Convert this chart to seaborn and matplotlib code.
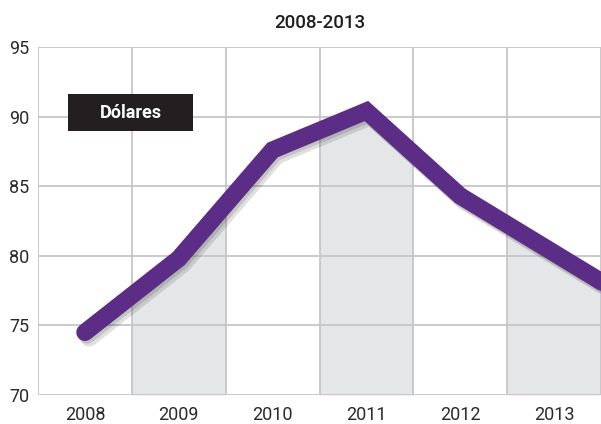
import numpy as np
import pandas as pd
import matplotlib
matplotlib.use("Agg")
import matplotlib.pyplot as plt
import matplotlib.patheffects as pe
from matplotlib.patches import Rectangle
import seaborn as sns

# data (last point lies past the right edge, clipped)
years = [2008, 2009, 2010, 2011, 2012, 2013, 2014]
dolares = [74.5, 79.8, 87.6, 90.4, 84.3, 80.2, 76.1]
shown_years = ["2008", "2009", "2010", "2011", "2012", "2013"]
y_ticks = [70, 75, 80, 85, 90, 95]
shaded = [1, 3, 5]  # index of 2009, 2011, 2013 columns

df = pd.DataFrame({"pos": np.arange(len(years)), "valor": dolares})

sns.set_style("white")
plt.rcParams["font.family"] = ["Roboto", "DejaVu Sans"]

W, H = 601, 424
fig = plt.figure(figsize=(W / 100, H / 100), dpi=100)
ax = fig.add_axes([38 / W, 1 - 395 / H, 1 - 38 / W, (395 - 47) / H])

grid_c = "#c6c6ca"
purple = "#5b2d86"

# grey area under the line in alternating columns
for c in shaded:
    xs = np.linspace(c - 0.5, c + 0.5, 50)
    ys = np.interp(xs, df["pos"], df["valor"])
    ax.fill_between(xs, 70, ys, color="#e5e6e8", lw=0, zorder=1)

sns.lineplot(data=df, x="pos", y="valor", ax=ax, color=purple, lw=12.5,
             solid_capstyle="round", solid_joinstyle="miter", zorder=5,
             path_effects=[pe.SimpleLineShadow(offset=(3, -4), shadow_color="#000000", alpha=0.12),
                           pe.SimpleLineShadow(offset=(1.5, -2), shadow_color="#000000", alpha=0.12),
                           pe.Normal()])

ax.set_xlim(-0.5, 5.5)
ax.set_ylim(70, 95)
ax.set_yticks(y_ticks)
ax.set_xticks(range(len(shown_years)))
ax.set_xticklabels(shown_years)
ax.set_xlabel("")
ax.set_ylabel("")

for v in y_ticks:
    ax.axhline(v, color=grid_c, lw=1.3, zorder=2)
for b in np.arange(-0.5, 6.0, 1.0):
    ax.axvline(b, color=grid_c, lw=1.3, zorder=2)

for s in ax.spines.values():
    s.set_visible(False)

ax.tick_params(axis="both", length=0, labelsize=13, colors="#2a2a2a")
ax.tick_params(axis="y", pad=6)
ax.tick_params(axis="x", pad=8)

ax.set_title("2008-2013", fontsize=13.5, fontweight="medium", color="#1e1e1e", pad=14)

# black label box
fig.patches.append(Rectangle((68 / W, 1 - 131 / H), 125 / W, 37 / H,
                             transform=fig.transFigure, fc="#231f20", ec="none", zorder=10))
fig.text(130.5 / W, 1 - 113 / H, "Dólares", color="white", fontsize=13, fontweight="bold",
         ha="center", va="center", zorder=11)

fig.savefig("out.png", dpi=100)
